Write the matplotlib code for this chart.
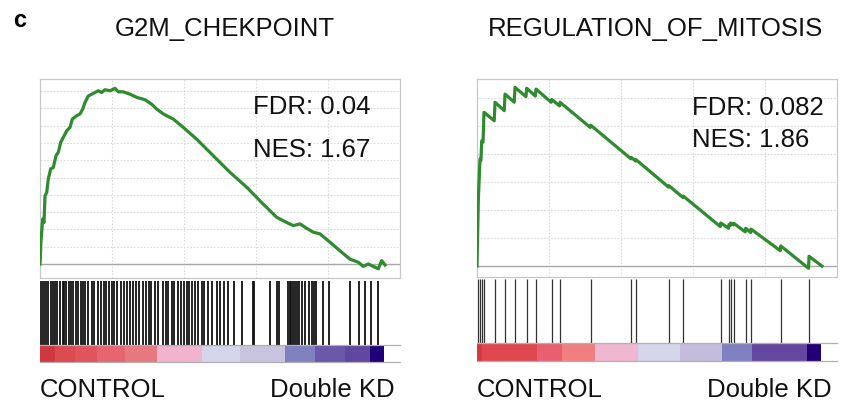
import matplotlib
matplotlib.use("Agg")
import matplotlib.pyplot as plt
import numpy as np

plt.rcParams['font.family'] = ['Liberation Sans', 'DejaVu Sans']

# ---------------- data ----------------
N_GENES = 20010
X_MAX = 20880

titles = ["G2M_CHEKPOINT", "REGULATION_OF_MITOSIS"]
fdr_values = ["0.04", "0.082"]
nes_values = ["1.67", "1.86"]
left_label = "CONTROL"
right_label = "Double KD"

# running enrichment score, G2M_CHEKPOINT (rank, ES)
g2m_rank = [0, 58, 157, 232, 290, 389, 481, 621, 771, 928, 1061, 1201, 1351, 1549,
            1740, 1873, 2129, 2320, 2477, 2610, 2801, 2999, 3190, 3381, 3579, 3770,
            4060, 4350, 4541, 4831, 5220, 5609, 6090, 6479, 6769, 7151, 7731, 8311,
            9089, 10051, 11020, 11989, 12951, 13729, 14309, 14691, 15080, 15469,
            15851, 16240, 16820, 17400, 17980, 18461, 18751, 19041, 19331, 19621,
            19819, 20010]
g2m_es = [0.0, 0.067, 0.130, 0.120, 0.197, 0.207, 0.246, 0.275, 0.279, 0.313, 0.323,
          0.352, 0.366, 0.385, 0.395, 0.419, 0.429, 0.434, 0.448, 0.467, 0.486, 0.491,
          0.496, 0.501, 0.496, 0.504, 0.501, 0.508, 0.498, 0.498, 0.491, 0.482, 0.475,
          0.462, 0.448, 0.434, 0.419, 0.395, 0.361, 0.313, 0.265, 0.222, 0.173, 0.135,
          0.120, 0.111, 0.116, 0.103, 0.092, 0.087, 0.063, 0.038, 0.014, 0.005, -0.007,
          0.0, -0.007, -0.014, 0.010, -0.003]

g2m_hits = [0, 116, 232, 348, 464, 638, 754, 870, 986, 1160, 1334, 1392, 1508, 1682,
            1798, 1914, 2088, 2204, 2378, 2494, 2610, 2784, 3016, 3132, 3364, 3538,
            3712, 3828, 4002, 4176, 4292, 4466, 4698, 4872, 5046, 5220, 5394, 5568,
            5742, 5974, 6148, 6322, 6438, 6670, 6844, 7134, 7308, 7424, 7656, 7772,
            8004, 8178, 8352, 8526, 8642, 8816, 8990, 9164, 9396, 9512, 9744, 9976,
            10266, 10440, 10672, 10904, 11252, 11716, 12354, 12412, 13340, 13746,
            13862, 14384, 14500, 14558, 14674, 14790, 14906, 15022, 15196, 15370,
            15602, 15776, 15892, 16008, 16414, 16762, 17980, 18502, 18850, 19198,
            19604]

# running enrichment score, REGULATION_OF_MITOSIS (rank, ES)
mit_rank = [0, 75, 174, 230, 273, 350, 406, 1000, 1044, 1580, 1624, 2160, 2204, 2840,
            2883, 3380, 3422, 4300, 4333, 4790, 4814, 6570, 6595, 8930, 8949, 9200,
            9222, 11110, 11136, 11940, 11965, 14110, 14135, 14590, 14616, 14690,
            14715, 14880, 14906, 15560, 15585, 15870, 15892, 17590, 17615, 19230,
            19256, 20010]
mit_es = [0.0, 0.233, 0.382, 0.378, 0.447, 0.443, 0.549, 0.519, 0.585, 0.555, 0.614,
          0.585, 0.638, 0.605, 0.635, 0.607, 0.632, 0.585, 0.595, 0.572, 0.585, 0.495,
          0.503, 0.383, 0.388, 0.375, 0.380, 0.282, 0.287, 0.245, 0.250, 0.141, 0.154,
          0.135, 0.148, 0.145, 0.154, 0.147, 0.152, 0.122, 0.135, 0.120, 0.132, 0.055,
          0.072, -0.008, 0.035, 0.0]

mit_hits = [75, 174, 273, 406, 1044, 1624, 2204, 2883, 3422, 4333, 4814, 6595, 8949,
            9222, 11136, 11965, 14135, 14616, 14715, 14906, 15585, 15892, 17615, 19256]

# ranked-list colour bar segments (start rank, colour)
g2m_bar_start = [0, 870, 2030, 3306, 4930, 6786, 9396, 11600, 14210, 15950, 17690, 19140]
g2m_bar_color = ['#d03840', '#dc4a52', '#e0545c', '#e46470', '#e87880', '#f0b4cc',
                 '#d4d4ea', '#c8c4e0', '#8080c0', '#6a58a8', '#6048a0', '#200078']
mit_bar_start = [0, 290, 3480, 4930, 6844, 9338, 11774, 14210, 15950, 19140]
mit_bar_color = ['#d83840', '#e04850', '#e86070', '#f08080', '#f0b8d0', '#d4d4ea',
                 '#c4bcdc', '#8080c0', '#6448a0', '#200078']
BAR_END = 19952

panels = [
    dict(rank=g2m_rank, es=g2m_es, hits=g2m_hits, bar_start=g2m_bar_start,
         bar_color=g2m_bar_color, ylim=(-0.0405, 0.535), ystep=0.05, ymax_grid=0.5,
         hit_lw=1.3, hit_c='#111111'),
    dict(rank=mit_rank, es=mit_es, hits=mit_hits, bar_start=mit_bar_start,
         bar_color=mit_bar_color, ylim=(-0.039, 0.668), ystep=0.1, ymax_grid=0.6,
         hit_lw=0.9, hit_c='#333333'),
]

# ---------------- layout (pixels) ----------------
W, H = 843, 402
fig = plt.figure(figsize=(W / 100, H / 100), dpi=100)

def fax(x0, y0, x1, y1):
    return fig.add_axes([x0 / W, 1 - y1 / H, (x1 - x0) / W, (y1 - y0) / H])

geom = [
    dict(x0=40, x1=400, es=(80, 279), hit=(282, 346), bar=(346, 363),
         title_x=225, fdr_x=253, fdr_y=114, nes_y=157),
    dict(x0=477, x1=837, es=(80, 278), hit=(280, 344), bar=(344, 362),
         title_x=655, fdr_x=692, fdr_y=115, nes_y=147),
]

green = '#2e8b2e'
frame_c = '#c8c8c8'
FS = 18.5

fig.text(13 / W, 1 - 27 / H, "c", fontsize=17, fontweight='bold', ha='left',
         va='baseline')

for p, g, title, fdr, nes in zip(panels, geom, titles, fdr_values, nes_values):
    # enrichment plot
    ax = fax(g['x0'], g['es'][0], g['x1'], g['es'][1])
    ax.set_xlim(0, X_MAX)
    ax.set_ylim(*p['ylim'])
    for x in np.linspace(0, X_MAX, 6)[1:-1]:
        ax.axvline(x, color='#dadada', lw=0.8, ls=(0, (1.5, 1.5)), zorder=0)
    for y in np.arange(p['ystep'], p['ymax_grid'] + 1e-9, p['ystep']):
        ax.axhline(y, color='#dadada', lw=0.8, ls=(0, (1.5, 1.5)), zorder=0)
    ax.axhline(0, color='#a8a8a8', lw=1.0, zorder=1)
    ax.plot(p['rank'], p['es'], color=green, lw=2.3, zorder=3,
            solid_joinstyle='round')
    ax.set_xticks([])
    ax.set_yticks([])
    for s in ax.spines.values():
        s.set_color(frame_c)
        s.set_linewidth(0.9)
    ax.text((g['fdr_x'] - g['x0']) / (g['x1'] - g['x0']),
            1 - (g['fdr_y'] - g['es'][0]) / (g['es'][1] - g['es'][0]),
            f"FDR: {fdr}", transform=ax.transAxes, fontsize=FS, ha='left',
            va='baseline', color='#111111')
    ax.text((g['fdr_x'] - g['x0']) / (g['x1'] - g['x0']),
            1 - (g['nes_y'] - g['es'][0]) / (g['es'][1] - g['es'][0]),
            f"NES: {nes}", transform=ax.transAxes, fontsize=FS, ha='left',
            va='baseline', color='#111111')
    fig.text(g['title_x'] / W, 1 - 36 / H, title, fontsize=FS, ha='center',
             va='baseline', color='#111111')

    # hits
    hx = fax(g['x0'], g['hit'][0], g['x1'], g['hit'][1])
    hx.set_xlim(0, X_MAX)
    hx.set_ylim(0, 1)
    hx.vlines(p['hits'], 0, 1, color=p['hit_c'], lw=p['hit_lw'])
    hx.axis('off')

    # colour bar
    bx = fax(g['x0'], g['bar'][0], g['x1'], g['bar'][1])
    bx.set_xlim(0, X_MAX)
    bx.set_ylim(0, 1)
    starts = p['bar_start']
    ends = starts[1:] + [BAR_END]
    for s0, s1, c in zip(starts, ends, p['bar_color']):
        bx.broken_barh([(s0, s1 - s0)], (0, 1), facecolors=c, edgecolor='none')
    bx.set_xticks([])
    bx.set_yticks([])
    for k in ['left', 'right']:
        bx.spines[k].set_visible(False)
    for k in ['top', 'bottom']:
        bx.spines[k].set_color('#b0b0b0')
        bx.spines[k].set_linewidth(0.9)

    fig.text(g['x0'] / W, 1 - 397 / H, left_label, fontsize=FS, ha='left',
             va='baseline', color='#111111')
    fig.text((g['x1'] - 5) / W, 1 - 397 / H, right_label, fontsize=FS,
             ha='right', va='baseline', color='#111111')

fig.savefig("out.png", dpi=100, facecolor='white')
